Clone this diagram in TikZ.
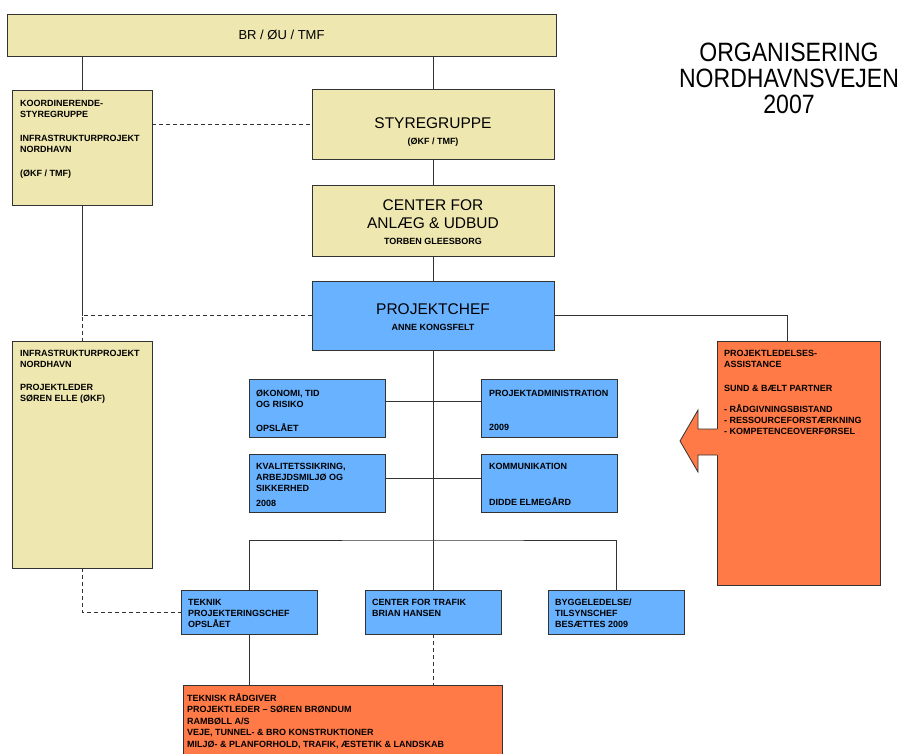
\documentclass[tikz,border=0pt]{standalone}
\usepackage{fontspec}
\setmainfont{Liberation Sans}
\newfontfamily\condfont[FakeStretch=0.87]{Liberation Sans}
\definecolor{sand}{RGB}{238,231,176}
\definecolor{sky}{RGB}{105,178,255}
\definecolor{rust}{RGB}{255,122,70}
\begin{document}
\begin{tikzpicture}[x=1pt,y=-1pt,
    box/.style={draw=black!80,line width=0.8pt,inner sep=0pt},
    ybox/.style={box,fill=sand},
    bbox/.style={box,fill=sky},
    obox/.style={box,fill=rust},
    small/.style={anchor=north west,inner sep=0pt,align=left,font=\bfseries\fontsize{9}{11}\selectfont},
    big/.style={inner sep=0pt,font=\fontsize{15.5}{19}\selectfont},
    sub/.style={inner sep=0pt,font=\bfseries\fontsize{9}{11}\selectfont},
    link/.style={draw=black!80,line width=0.7pt},
    dashlink/.style={link,dash pattern=on 4pt off 3pt}]
    \useasboundingbox (0,0) rectangle (900,753);
    % boxes
    \node[ybox,minimum width=549pt,minimum height=42pt] (top) at (281.5,35) {};
    \node[ybox,minimum width=140pt,minimum height=115pt] (koord) at (82,147.5) {};
    \node[ybox,minimum width=242pt,minimum height=70pt] (styr) at (433,124) {};
    \node[ybox,minimum width=242pt,minimum height=71pt] (anlaeg) at (433,220.5) {};
    \node[bbox,minimum width=242pt,minimum height=69pt] (pchef) at (433,315.5) {};
    \node[ybox,minimum width=140pt,minimum height=227pt] (infra) at (82,454.5) {};
    \node[obox,minimum width=163pt,minimum height=244pt] (pla) at (798.5,463) {};
    \foreach \n/\u/\v in {okon/317/408,padm/549.5/408,kval/317/483.5,komm/549.5/483.5}
        \node[bbox,minimum width=136pt,minimum height=58pt] (\n) at (\u,\v) {};
    \foreach \n/\u in {tek/249.5,cft/433,byg/616.5}
        \node[bbox,minimum width=136pt,minimum height=44pt] (\n) at (\u,612) {};
    \node[obox,minimum width=319pt,minimum height=80pt] (tra) at (342.5,725) {};
    % arrow out of the right box
    \fill[rust] (719,429) -- (698,429) -- (698,410) -- (680,441) -- (698,472) -- (698,455) -- (719,455) -- cycle;
    \draw[link,line width=0.8pt] (717,429) -- (698,429) -- (698,410) -- (680,441) -- (698,472) -- (698,455) -- (717,455);
    % texts
    \node[inner sep=0pt,font=\fontsize{13}{15}\selectfont] (toptxt) at (top) {BR / ØU / TMF};
    \node[big] (styrtxt) at (433,123) {STYREGRUPPE};
    \node[sub] (styrsub) at (433,142) {(ØKF / TMF)};
    \node[big,align=center,font=\fontsize{15.5}{18}\selectfont] (anlaegtxt) at (433,214) {CENTER FOR\\ANLÆG \& UDBUD};
    \node[sub] (anlaegsub) at (433,241) {TORBEN GLEESBORG};
    \node[big] (pcheftxt) at (433,309) {PROJEKTCHEF};
    \node[sub] (pchefsub) at (433,327) {ANNE KONGSFELT};
    \node[small] (koordtxt) at (20,100) {KOORDINERENDE-\\STYREGRUPPE\\[13pt]INFRASTRUKTURPROJEKT\\NORDHAVN\\[13pt](ØKF / TMF)};
    \node[small] (infratxt) at (20,350) {INFRASTRUKTURPROJEKT\\NORDHAVN\\[12pt]PROJEKTLEDER\\SØREN ELLE (ØKF)};
    \node[small] (platxt) at (724,350) {PROJEKTLEDELSES-\\ASSISTANCE\\[13pt]SUND \& BÆLT PARTNER\\[10pt]- RÅDGIVNINGSBISTAND\\- RESSOURCEFORSTÆRKNING\\- KOMPETENCEOVERFØRSEL};
    \node[small] (okontxt) at (256,390) {ØKONOMI, TID\\OG RISIKO\\[13pt]OPSLÅET};
    \node[small] (padmtxt) at (489,390) {PROJEKTADMINISTRATION\\[23pt]2009};
    \node[small] (kvaltxt) at (256,463) {KVALITETSSIKRING,\\ARBEJDSMILJØ OG\\SIKKERHED\\[4pt]2008};
    \node[small] (kommtxt) at (489,463) {KOMMUNIKATION\\[25pt]DIDDE ELMEGÅRD};
    \node[small] (tektxt) at (188,599) {TEKNIK\\PROJEKTERINGSCHEF\\OPSLÅET};
    \node[small] (cfttxt) at (372,599) {CENTER FOR TRAFIK\\BRIAN HANSEN};
    \node[small] (bygtxt) at (555,599) {BYGGELEDELSE/\\TILSYNSCHEF\\BESÆTTES 2009};
    \node[small,font=\bfseries\fontsize{9}{11.5}\selectfont] (tratxt) at (187,693) {TEKNISK RÅDGIVER\\PROJEKTLEDER – SØREN BRØNDUM\\RAMBØLL A/S\\VEJE, TUNNEL- \& BRO KONSTRUKTIONER\\MILJØ- \& PLANFORHOLD, TRAFIK, ÆSTETIK \& LANDSKAB};
    \node[align=center,inner sep=0pt,font=\condfont\fontsize{26.5}{26}\selectfont] (title) at (789,78) {ORGANISERING\\NORDHAVNSVEJEN\\2007};
    % lines
    \coordinate (j1) at (koord.south |- pchef.west);
    \coordinate (bus) at (433,540);
    \draw[link] (koord.north) -- (koord.north |- top.south);
    \draw[link] (styr.north) -- (styr.north |- top.south);
    \draw[dashlink] (koord.east |- styr.west) -- (styr.west);
    \draw[link] (styr.south) -- (anlaeg.north);
    \draw[link] (anlaeg.south) -- (pchef.north);
    \draw[link] (koord.south) -- (j1);
    \draw[dashlink] (pchef.west) -- (j1) -- (infra.north);
    \draw[dashlink] (infra.south) |- (tek.west);
    \draw[link] (pchef.east) -| ([xshift=-11pt]pla.north);
    \draw[link] (pchef.south) -- (bus);
    \draw[link] ([yshift=7pt]okon.east) -- ([yshift=7pt]padm.west);
    \draw[link] ([yshift=5.5pt]kval.east) -- ([yshift=5.5pt]komm.west);
    \draw[link] (tek.north) |- (bus) -| (byg.north);
    \draw[link] (cft.north) -- (bus);
    \draw[link] (tek.south) -- (tek.south |- tra.north);
    \draw[dashlink] (cft.south) -- (cft.south |- tra.north);
\end{tikzpicture}
\end{document}
